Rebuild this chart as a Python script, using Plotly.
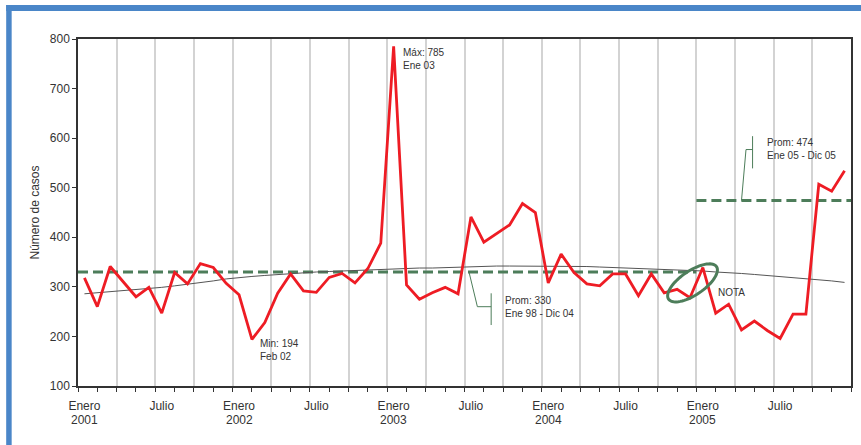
import math
import plotly.graph_objects as go

# ---- data ----
meses = list(range(60))  # Enero 2001 .. Diciembre 2005
casos = [318, 260, 341, 310, 280, 299, 247, 329, 306, 347,
         339, 307, 284, 194, 228, 287, 326, 292, 289, 319,
         327, 308, 337, 388, 785, 304, 275, 288, 299, 286,
         441, 390, 407, 425, 468, 450, 308, 366, 329, 306,
         302, 326, 326, 282, 326, 288, 295, 278, 339, 247,
         265, 213, 231, 212, 196, 245, 245, 507, 493, 534]
media_movil = [286, 288, 290, 292, 294, 296, 299, 302, 305, 309,
               312, 316, 319, 321, 323, 325, 327, 329, 330, 331,
               332, 333, 335, 336, 337, 337, 338, 338, 339, 339,
               340, 341, 342, 342, 342, 342, 342, 342, 341, 341,
               340, 339, 338, 338, 337, 336, 335, 334, 332, 330,
               329, 327, 325, 323, 321, 319, 317, 314, 312, 309]
prom1_x = [-0.5, 47.5]
prom1_y = [330, 330]
prom2_x = [47.5, 59.5]
prom2_y = [474, 474]
mes_pos = [0, 6, 12, 18, 24, 30, 36, 42, 48, 54]
mes_txt = ["Enero", "Julio", "Enero", "Julio", "Enero", "Julio", "Enero", "Julio", "Enero", "Julio"]
anio_pos = [0, 12, 24, 36, 48]
anio_txt = ["2001", "2002", "2003", "2004", "2005"]

FONT = "Liberation Sans, Arial, sans-serif"
TXT = "#333333"
GREEN = "#4d7d5a"
RED = "#ee1c24"

fig = go.Figure()
fig.add_trace(go.Scatter(x=prom1_x, y=prom1_y, mode="lines",
                         line=dict(color=GREEN, width=3, dash="10px,5px"), hoverinfo="skip"))
fig.add_trace(go.Scatter(x=prom2_x, y=prom2_y, mode="lines",
                         line=dict(color=GREEN, width=3, dash="10px,5px"), hoverinfo="skip"))
fig.add_trace(go.Scatter(x=meses, y=media_movil, mode="lines",
                         line=dict(color="#555555", width=1)))
fig.add_trace(go.Scatter(x=meses, y=casos, mode="lines",
                         line=dict(color=RED, width=2.8)))
# invisible trace for the label axis
fig.add_trace(go.Scatter(x=[mes_pos[0]], y=[casos[0]], xaxis="x2", mode="markers",
                         marker=dict(opacity=0), hoverinfo="skip"))

# plot geometry (for ellipse in pixel proportions)
L, R, T, B = 78, 8, 39, 59
W, H = 861, 445
pw, ph = W - L - R, H - T - B
px_m = pw / 60.0
px_u = ph / 700.0

# ellipse around NOTA
cx, cy = 47.2, 308
a, b, th = 29, 12, math.radians(34)
pts = []
for k in range(73):
    t = 2 * math.pi * k / 72
    dx = a * math.cos(t) * math.cos(th) - b * math.sin(t) * math.sin(th)
    dy = a * math.cos(t) * math.sin(th) + b * math.sin(t) * math.cos(th)
    pts.append((cx + dx / px_m, cy + dy / px_u))
path = "M " + " L ".join(f"{x:.3f},{y:.3f}" for x, y in pts) + " Z"

shapes = [
    dict(type="path", path=path, xref="x", yref="y", line=dict(color=GREEN, width=3)),
    # connector Prom 330
    dict(type="line", xref="x", yref="y", x0=29.85, y0=330, x1=30.5, y1=260, line=dict(color=GREEN, width=1)),
    dict(type="line", xref="x", yref="y", x0=30.5, y0=260, x1=31.57, y1=260, line=dict(color=GREEN, width=1)),
    dict(type="line", xref="x", yref="y", x0=31.57, y0=287, x1=31.57, y1=223, line=dict(color=GREEN, width=1)),
    # connector Prom 474
    dict(type="line", xref="x", yref="y", x0=51.0, y0=474, x1=51.35, y1=577, line=dict(color=GREEN, width=1)),
    dict(type="line", xref="x", yref="y", x0=51.35, y0=577, x1=51.86, y1=577, line=dict(color=GREEN, width=1)),
    dict(type="line", xref="x", yref="y", x0=51.86, y0=604, x1=51.86, y1=539, line=dict(color=GREEN, width=1)),
]
# blue frame (top and left bars)
def px2x(p):
    return (p - L) / pw
def py2y(p):
    return (H - B - p) / ph
shapes.append(dict(type="rect", xref="paper", yref="paper", layer="above",
                   x0=px2x(6), x1=px2x(875), y0=py2y(5), y1=py2y(11),
                   fillcolor="#4a86c8", line=dict(width=0)))
shapes.append(dict(type="rect", xref="paper", yref="paper", layer="above",
                   x0=px2x(6), x1=px2x(11.5), y0=py2y(5), y1=py2y(460),
                   fillcolor="#4a86c8", line=dict(width=0)))

ann_font = dict(family=FONT, size=10, color=TXT)
annotations = [
    dict(x=24.55, y=760, xref="x", yref="y", text="Máx: 785<br>Ene 03", showarrow=False,
         xanchor="left", yanchor="middle", align="left", font=ann_font),
    dict(x=13.5, y=173, xref="x", yref="y", text="Min: 194<br>Feb 02", showarrow=False,
         xanchor="left", yanchor="middle", align="left", font=ann_font),
    dict(x=32.5, y=260, xref="x", yref="y", text="Prom: 330<br>Ene 98 - Dic 04", showarrow=False,
         xanchor="left", yanchor="middle", align="left", font=ann_font),
    dict(x=52.8, y=578, xref="x", yref="y", text="Prom: 474<br>Ene 05 - Dic 05", showarrow=False,
         xanchor="left", yanchor="middle", align="left", font=ann_font),
    dict(x=49.05, y=288, xref="x", yref="y", text="NOTA", showarrow=False,
         xanchor="left", yanchor="middle", font=ann_font),
]
for p, t in zip(anio_pos, anio_txt):
    annotations.append(dict(x=p, y=py2y(420), xref="x", yref="paper", text=t, showarrow=False,
                            xanchor="center", yanchor="middle",
                            font=dict(family=FONT, size=12, color=TXT)))

fig.update_layout(
    width=W, height=H,
    margin=dict(l=L, r=R, t=T, b=B),
    paper_bgcolor="white", plot_bgcolor="white",
    showlegend=False,
    font=dict(family=FONT, size=12, color=TXT),
    xaxis=dict(range=[-0.5, 59.5], tickmode="linear", tick0=-0.5, dtick=3,
               showgrid=True, gridcolor="#d3d3d3", gridwidth=1.5,
               ticks="outside", ticklen=4, tickcolor="#333", tickwidth=1,
               showticklabels=False, showline=True, linecolor="#333", linewidth=1.5,
               mirror=True, zeroline=False,
               minor=dict(tick0=-0.5, dtick=1.5, ticks="outside", ticklen=4,
                          tickcolor="#333", showgrid=False)),
    xaxis2=dict(overlaying="x", side="bottom", anchor="y", range=[-0.5, 59.5],
                tickmode="array", tickvals=mes_pos, ticktext=mes_txt,
                showgrid=False, zeroline=False, showline=False,
                ticks="outside", ticklen=9, tickcolor="rgba(0,0,0,0)",
                tickfont=dict(family=FONT, size=12, color=TXT)),
    yaxis=dict(range=[100, 800], tickmode="linear", tick0=100, dtick=100,
               showgrid=False, zeroline=False, ticks="outside", ticklen=4,
               tickcolor="#333", showline=True, linecolor="#333", linewidth=1.5,
               mirror=True, tickfont=dict(family=FONT, size=12, color=TXT),
               title=dict(text="Número de casos", standoff=8,
                          font=dict(family=FONT, size=12, color=TXT))),
    shapes=shapes,
    annotations=annotations,
)

fig.write_html("out.html", config={"displayModeBar": False},
               post_script="document.body.style.margin='0px';")
